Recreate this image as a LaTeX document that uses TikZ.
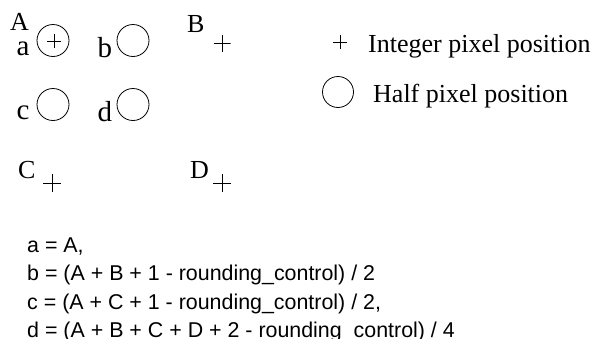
\documentclass[tikz,border=0pt]{standalone}
\usepackage{fontspec}
\setmainfont{Liberation Serif}
\newfontfamily\formfont{Liberation Sans}
\begin{document}
\begin{tikzpicture}[x=1pt,y=-1pt,
  lbl/.style={anchor=base west,inner sep=0pt,font=\fontsize{26}{30}\selectfont},
  ulbl/.style={lbl,font=\fontsize{26}{30}\selectfont},
  llbl/.style={lbl,font=\fontsize{29}{33}\selectfont},
  form/.style={anchor=base west,inner sep=0pt,font=\formfont\fontsize{21.4}{25}\selectfont},
  halfpos/.style={circle,draw,line width=0.8pt,minimum size=32pt,inner sep=0pt},
  intpos/.style={minimum size=#1,inner sep=0pt,path picture={
     \draw[line width=0.8pt] (path picture bounding box.north) -- (path picture bounding box.south)
       (path picture bounding box.west) -- (path picture bounding box.east);}},
  intpos/.default=16pt]
\useasboundingbox (0,0) rectangle (597,338);
\clip (0,0) rectangle (597,338);
% grid labels
\node[ulbl] (lA) at (10,30.5) {A};
\node[llbl] (la) at (16.5,55.5) {a};
\node[llbl] (lb) at (97.5,57) {b};
\node[ulbl] (lB) at (187,32) {B};
\node[llbl] (lc) at (16.5,119) {c};
\node[llbl] (ld) at (97.5,121.5) {d};
\node[ulbl] (lC) at (18,178) {C};
\node[ulbl] (lD) at (190,178) {D};
% half positions
\node[halfpos] (ca) at (53,40.5) {};
\node[halfpos] (cb) at (133,40.5) {};
\node[halfpos] (cc) at (53,104.5) {};
\node[halfpos] (cd) at (133,104.5) {};
% integer positions
\node[intpos=14pt] (pA) at (54,41) {};
\node[intpos=17pt] (pB) at (222,43) {};
\node[intpos=18pt] (pC) at (52,183) {};
\node[intpos=18pt] (pD) at (222,183) {};
% legend
\node[intpos=14pt] (legp) at (340,42) {};
\node[lbl] (legpt) at (368,52) {Integer pixel position};
\node[halfpos,minimum size=31pt] (legc) at (338,92) {};
\node[lbl] (legct) at (373,102) {Half pixel position};
% formulas
\node[form] (fa) at (27,252.5) {a = A,};
\node[form] (fb) at (27,280.8) {b = (A + B + 1 - rounding\_control) / 2};
\node[form] (fc) at (27,309.2) {c = (A + C + 1 - rounding\_control) / 2,};
\node[form] (fd) at (27,337.5) {d = (A + B + C + D + 2 - rounding\_control) / 4};
\end{tikzpicture}
\end{document}
